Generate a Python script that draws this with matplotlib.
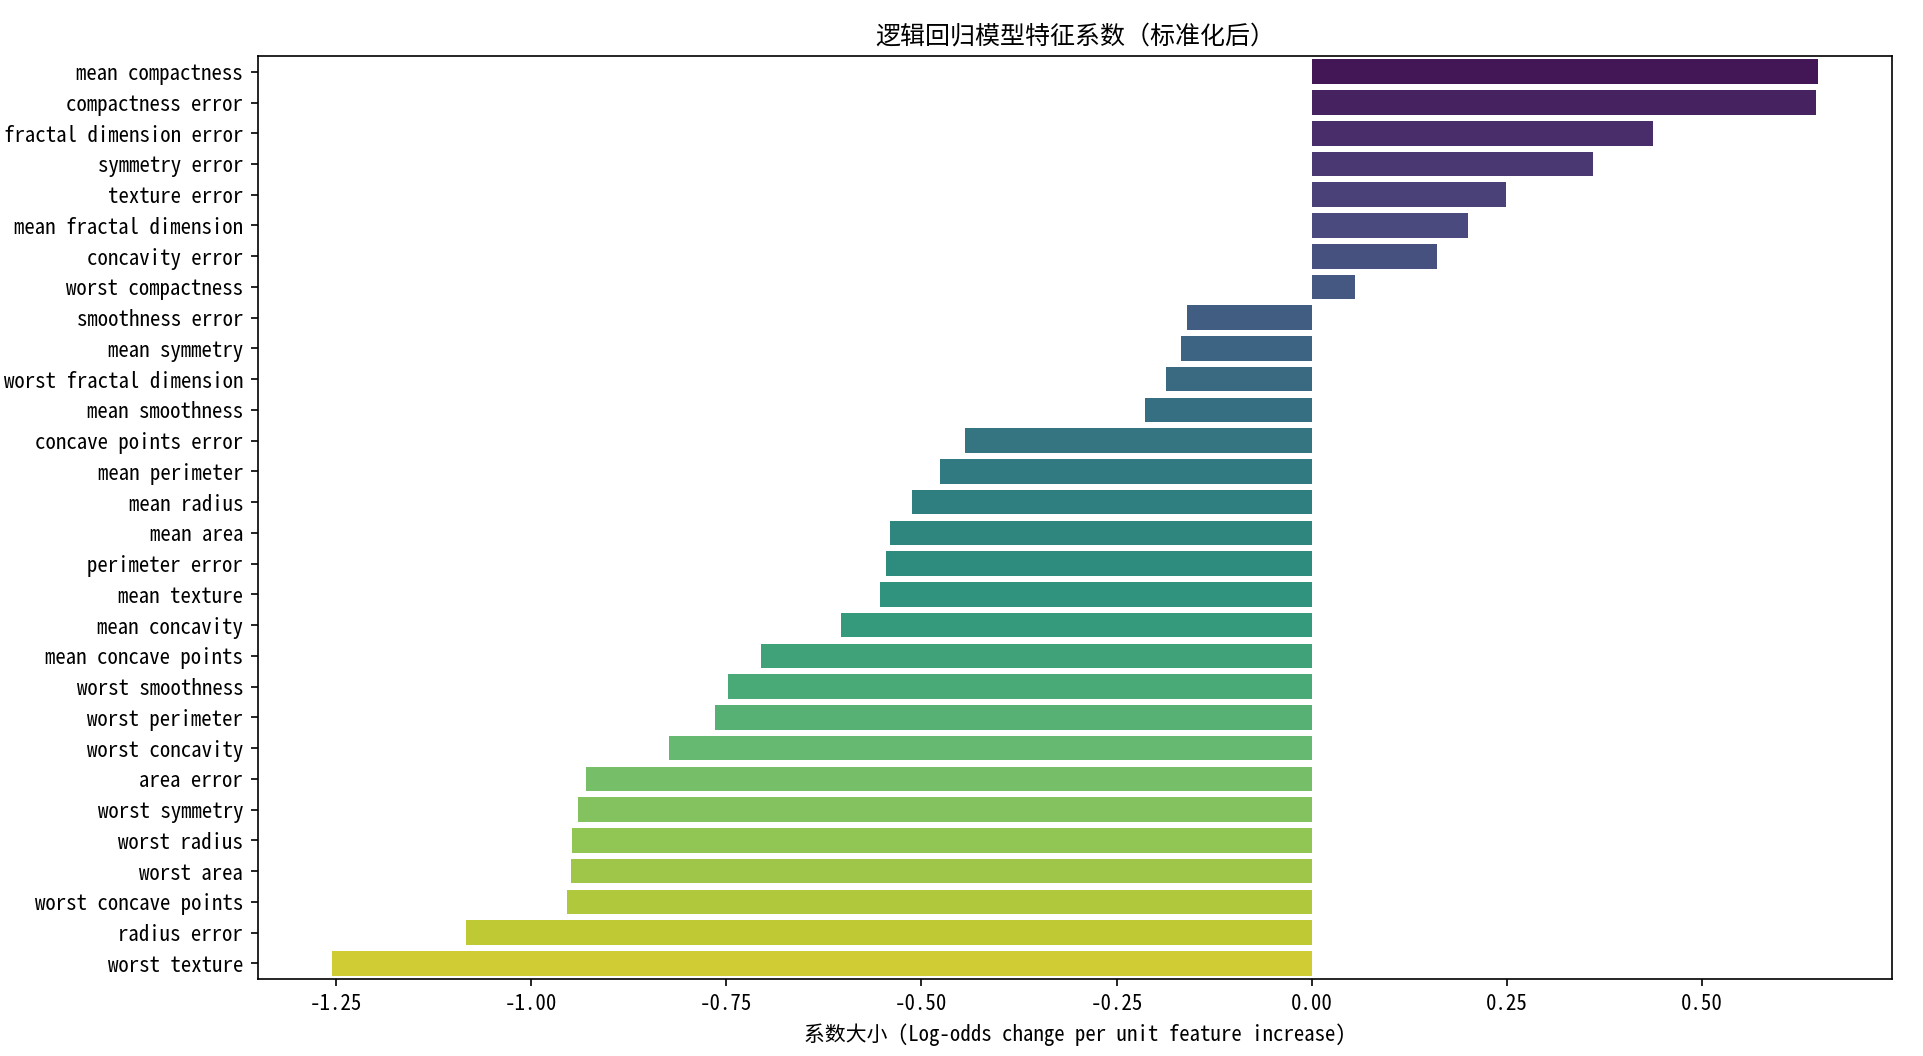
import numpy as np
import pandas as pd
import matplotlib
matplotlib.use("Agg")
import matplotlib.pyplot as plt
import seaborn as sns

# Feature names and standardized logistic regression coefficients (sorted)
features = [
    "mean compactness", "compactness error", "fractal dimension error",
    "symmetry error", "texture error", "mean fractal dimension",
    "concavity error", "worst compactness", "smoothness error",
    "mean symmetry", "worst fractal dimension", "mean smoothness",
    "concave points error", "mean perimeter", "mean radius", "mean area",
    "perimeter error", "mean texture", "mean concavity",
    "mean concave points", "worst smoothness", "worst perimeter",
    "worst concavity", "area error", "worst symmetry", "worst radius",
    "worst area", "worst concave points", "radius error", "worst texture",
]
coefs = [
    0.6486, 0.6463, 0.4370, 0.3600, 0.2488, 0.1998, 0.1604, 0.0551,
    -0.1600, -0.1680, -0.1870, -0.2130, -0.4435, -0.4767, -0.5117,
    -0.5408, -0.5448, -0.5528, -0.6026, -0.7050, -0.7474, -0.7640,
    -0.8230, -0.9294, -0.9397, -0.9472, -0.9489, -0.9540, -1.0833,
    -1.2551,
]

title = "逻辑回归模型特征系数（标准化后）"
xlabel = "系数大小 (Log-odds change per unit feature increase)"

plt.rcParams['font.family'] = ['Noto Sans Mono CJK SC', 'Noto Sans CJK SC', 'DejaVu Sans']
plt.rcParams['axes.unicode_minus'] = False
plt.rcParams['font.size'] = 10

df = pd.DataFrame({"feature": features, "coef": coefs})

fig, ax = plt.subplots(figsize=(12.82, 7.04), dpi=150)
fig.subplots_adjust(left=0.134, right=0.984, top=0.9466, bottom=0.0732)

sns.barplot(data=df, x="coef", y="feature", hue="feature",
            palette="viridis", legend=False, ax=ax)

ax.set_title(title)
ax.set_xlabel(xlabel)
ax.set_ylabel("")
ax.set_xticks([-1.25, -1.0, -0.75, -0.5, -0.25, 0.0, 0.25, 0.5])

fig.savefig("out.png", dpi=150)
